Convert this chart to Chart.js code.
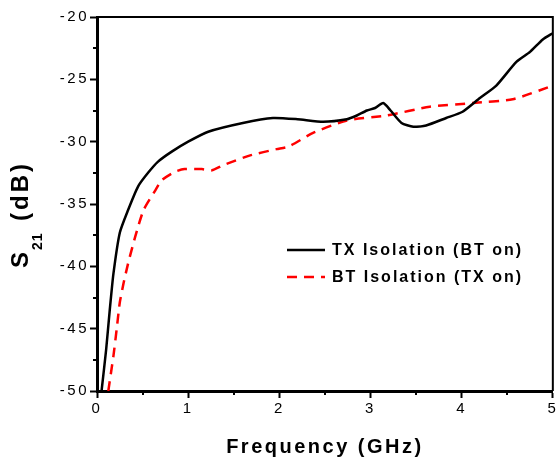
<!DOCTYPE html>
<html>
<head>
<meta charset="utf-8">
<script src="https://cdn.jsdelivr.net/npm/chart.js@4.4.1/dist/chart.umd.min.js"></script>
<style>
  body { margin: 0; background: #fff; }
  #wrap { width: 559px; height: 459px; position: relative; }
</style>
</head>
<body>
<div id="wrap"><canvas id="myChart"></canvas></div>
<script>
// TX isolation (BT on) - black solid
var txFreq = [0.05, 0.1, 0.14, 0.18, 0.25, 0.34, 0.45, 0.56, 0.67, 0.82, 1.0, 1.22, 1.6, 1.93, 2.2, 2.48, 2.74, 2.85, 2.96, 3.05, 3.14, 3.22, 3.34, 3.47, 3.61, 3.83, 4.01, 4.2, 4.38, 4.6, 4.75, 4.89, 5.0];
var txS21 = [-50, -46.7, -43.5, -40.6, -37.3, -35.5, -33.6, -32.5, -31.6, -30.8, -30.0, -29.2, -28.5, -28.1, -28.2, -28.4, -28.2, -27.9, -27.5, -27.3, -26.9, -27.5, -28.5, -28.8, -28.7, -28.1, -27.6, -26.5, -25.5, -23.6, -22.8, -21.8, -21.3];

// BT isolation (TX on) - red dashed
var btFreq = [0.124, 0.18, 0.215, 0.25, 0.29, 0.34, 0.42, 0.51, 0.64, 0.71, 0.86, 0.96, 1.15, 1.26, 1.38, 1.68, 1.97, 2.1, 2.37, 2.74, 3.18, 3.65, 4.12, 4.56, 5.0];
var btS21 = [-50, -47.2, -45.1, -42.9, -41.4, -39.8, -37.6, -35.5, -33.9, -33.1, -32.4, -32.2, -32.2, -32.3, -31.9, -31.1, -30.6, -30.4, -29.3, -28.3, -27.9, -27.2, -26.9, -26.6, -25.5];

var seriesNames = ['TX Isolation (BT on)', 'BT Isolation (TX on)'];

// axis ticks
var xMinorTicks = [0.5, 1.5, 2.5, 3.5, 4.5];
var yMinorTicks = [-47.5, -42.5, -37.5, -32.5, -27.5, -22.5];

function toPoints(xs, ys) {
    return xs.map(function (x, i) { return { x: x, y: ys[i] }; });
}

var FONT = '"Liberation Sans", Arial, sans-serif';

// frame, minor ticks, legend, y title with subscript
var extras = {
    id: 'extras',
    beforeDraw: function (chart) {
        chart.ctx.letterSpacing = '2.5px';
    },
    afterDraw: function (chart) {
        var ctx = chart.ctx;
        var a = chart.chartArea;
        var xs = chart.scales.x, ys = chart.scales.y;
        ctx.save();
        ctx.strokeStyle = '#000';
        ctx.lineWidth = 2;
        // top and right of the box
        ctx.beginPath();
        ctx.moveTo(a.left, a.top);
        ctx.lineTo(a.right, a.top);
        ctx.lineTo(a.right, a.bottom);
        ctx.stroke();

        // minor ticks
        ctx.beginPath();
        xMinorTicks.forEach(function (v) {
            var px = Math.round(xs.getPixelForValue(v));
            ctx.moveTo(px, a.bottom);
            ctx.lineTo(px, a.bottom + 4);
        });
        yMinorTicks.forEach(function (v) {
            var py = Math.round(ys.getPixelForValue(v));
            ctx.moveTo(a.left, py);
            ctx.lineTo(a.left - 4, py);
        });
        ctx.stroke();

        // legend
        var lx = a.left + 190, ly = a.top + 233;
        ctx.lineWidth = 2.5;
        chart.data.datasets.forEach(function (ds, i) {
            var y = ly + i * 27;
            ctx.strokeStyle = ds.borderColor;
            ctx.setLineDash(ds.borderDash || []);
            ctx.beginPath();
            ctx.moveTo(lx, y);
            ctx.lineTo(lx + 38, y);
            ctx.stroke();
            ctx.setLineDash([]);
            ctx.fillStyle = '#000';
            ctx.font = 'bold 16px ' + FONT;
            ctx.letterSpacing = '2px';
            ctx.textAlign = 'left';
            ctx.textBaseline = 'middle';
            ctx.fillText(ds.label, lx + 45, y + 1);
        });

        // y axis title: S21 (dB)
        ctx.translate(28, 268);
        ctx.rotate(-Math.PI / 2);
        ctx.textAlign = 'left';
        ctx.textBaseline = 'alphabetic';
        ctx.letterSpacing = '3px';
        ctx.font = 'bold 24px ' + FONT;
        ctx.fillText('S', 0, 0);
        ctx.font = 'bold 14px ' + FONT;
        ctx.letterSpacing = '1px';
        ctx.fillText('21', 18, 14);
        ctx.font = 'bold 24px ' + FONT;
        ctx.letterSpacing = '3px';
        ctx.fillText('(dB)', 47, 0);
        ctx.restore();
    }
};

var ctx = document.getElementById('myChart');

var chart = new Chart(ctx, {
    type: 'line',
    data: {
        datasets: [{
            label: seriesNames[0],
            data: toPoints(txFreq, txS21),
            borderColor: '#000000',
            borderWidth: 2.5,
            pointRadius: 0,
            tension: 0.2
        }, {
            label: seriesNames[1],
            data: toPoints(btFreq, btS21),
            borderColor: '#ff0000',
            borderWidth: 2.5,
            borderDash: [10, 7],
            pointRadius: 0,
            tension: 0.2
        }]
    },
    options: {
        responsive: true,
        maintainAspectRatio: false,
        animation: false,
        layout: { padding: { top: 17, right: 6, left: 0, bottom: 0 } },
        plugins: {
            legend: { display: false },
            tooltip: { enabled: false }
        },
        scales: {
            x: {
                type: 'linear',
                min: 0,
                max: 5,
                afterFit: function (scale) { scale.height = 68; },
                ticks: {
                    stepSize: 1,
                    color: '#000',
                    padding: 2,
                    maxRotation: 0,
                    font: { family: FONT, size: 15 }
                },
                grid: {
                    drawOnChartArea: false,
                    drawTicks: true,
                    tickLength: 7,
                    tickWidth: 2,
                    tickColor: '#000'
                },
                border: { display: true, color: '#000', width: 3 },
                title: {
                    display: true,
                    text: 'Frequency (GHz)',
                    color: '#000',
                    font: { family: FONT, size: 20, weight: 'bold' },
                    padding: { top: 3, bottom: 0 }
                }
            },
            y: {
                min: -50,
                max: -20,
                afterFit: function (scale) { scale.width = 97; },
                ticks: {
                    stepSize: 5,
                    color: '#000',
                    padding: 1,
                    font: { family: FONT, size: 15 }
                },
                grid: {
                    drawOnChartArea: false,
                    drawTicks: true,
                    tickLength: 7,
                    tickWidth: 2,
                    tickColor: '#000'
                },
                border: { display: true, color: '#000', width: 3 }
            }
        }
    },
    plugins: [extras]
});
</script>
</body>
</html>
